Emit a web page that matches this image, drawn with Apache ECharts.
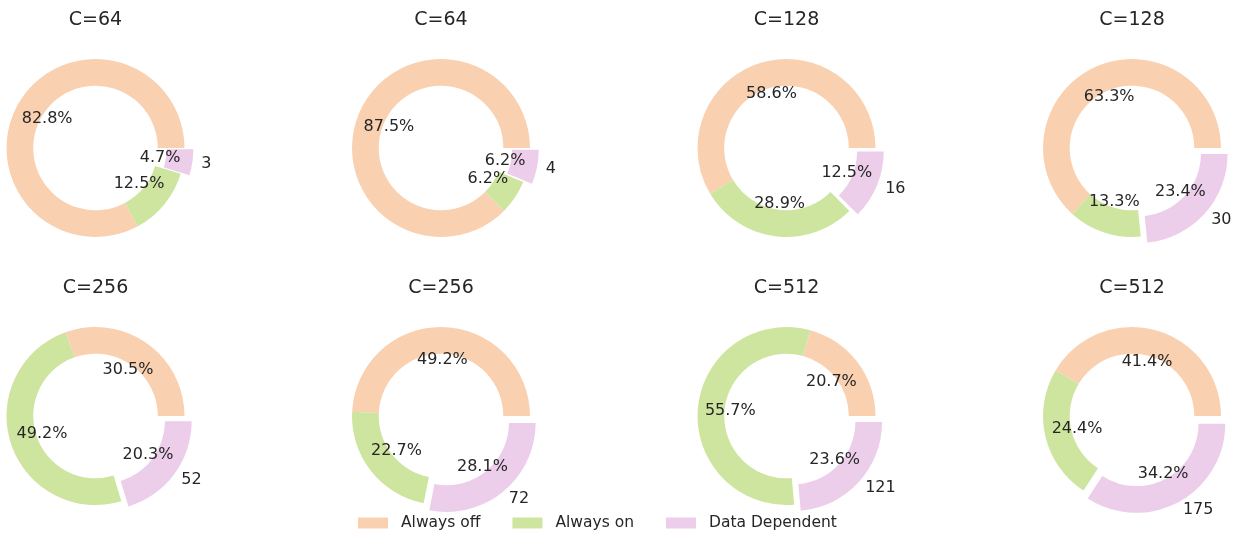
<!DOCTYPE html>
<html>
<head>
<meta charset="utf-8">
<script src="https://cdn.jsdelivr.net/npm/echarts@6/dist/echarts.min.js"></script>
<style>
html,body{margin:0;padding:0;background:#fff;}
#main{width:1241px;height:538px;}
</style>
</head>
<body>
<div id="main"></div>
<script>
// ---- data ----
const titles = ['C=64', 'C=64', 'C=128', 'C=128', 'C=256', 'C=256', 'C=512', 'C=512'];
const categories = ['Always off', 'Always on', 'Data Dependent'];
const alwaysOff = [53, 56, 75, 81, 78, 126, 106, 212];
const alwaysOn = [8, 4, 37, 17, 126, 58, 285, 125];
const dataDependent = [3, 4, 16, 30, 52, 72, 121, 175];

// ---- style / layout ----
const colors = ['#F9D0B0', '#CEE5A0', '#ECCDEA'];
const textColor = '#262626';
const font = 'DejaVu Sans';
const colX = [95.5, 441, 786.5, 1132];
const rowY = [148, 416];
const titleY = [20, 288];
const R = 89;
const R0 = 62.3;
const explode = 0.1 * R;
const pctR = 0.6 * R;

function pctText(v, total) {
  const x = v / total * 1000;
  let n = Math.floor(x + 1e-9);
  const f = x - n;
  if (Math.abs(f - 0.5) < 1e-9) { if (n % 2 === 1) n += 1; }
  else if (f > 0.5) n += 1;
  return (n / 10).toFixed(1) + '%';
}

const series = [];
const graphics = [];
for (let i = 0; i < titles.length; i++) {
  const cx = colX[i % 4];
  const cy = rowY[Math.floor(i / 4)];
  const vals = [alwaysOff[i], alwaysOn[i], dataDependent[i]];
  const total = vals[0] + vals[1] + vals[2];
  // ring with count label
  series.push({
    type: 'pie',
    center: [cx, cy],
    radius: [R0, R],
    startAngle: 0,
    clockwise: false,
    selectedMode: 'multiple',
    selectedOffset: explode,
    avoidLabelOverlap: false,
    animation: false,
    emphasis: { disabled: true },
    itemStyle: { borderWidth: 0 },
    label: {
      show: false, position: 'outside', alignTo: 'none', distanceToLabelLine: 0,
      color: textColor, fontSize: 16, fontFamily: font, formatter: '{c}'
    },
    labelLine: { show: false, length: explode, length2: 0 },
    data: vals.map((v, k) => ({
      name: categories[k], value: v,
      itemStyle: { color: colors[k] },
      selected: k === 2,
      label: { show: k === 2 }
    }))
  });
  // percentage labels at 0.6 R
  series.push({
    type: 'pie',
    center: [cx, cy],
    radius: [pctR - 20, pctR + 20],
    startAngle: 0,
    clockwise: false,
    selectedMode: 'multiple',
    selectedOffset: explode,
    avoidLabelOverlap: false,
    animation: false,
    silent: true,
    emphasis: { disabled: true },
    itemStyle: { color: 'rgba(0,0,0,0)', borderWidth: 0 },
    label: {
      show: true, position: 'inside', color: textColor, fontSize: 16, fontFamily: font,
      formatter: p => pctText(p.value, total)
    },
    labelLine: { show: false },
    data: vals.map((v, k) => ({ name: categories[k], value: v, selected: k === 2 }))
  });
  graphics.push({
    type: 'text', x: cx, y: titleY[Math.floor(i / 4)],
    style: { text: titles[i], align: 'center', verticalAlign: 'middle', fill: textColor, fontSize: 19, fontFamily: font }
  });
}

const chart = echarts.init(document.getElementById('main'), null, { renderer: 'canvas' });
chart.setOption({
  animation: false,
  backgroundColor: '#ffffff',
  legend: {
    data: categories,
    icon: 'rect',
    itemWidth: 30,
    itemHeight: 11,
    itemGap: 32,
    padding: 0,
    left: 358,
    top: 515,
    selectedMode: false,
    textStyle: { color: textColor, fontSize: 15.5, fontFamily: font, padding: [0, 0, 0, 8] }
  },
  graphic: graphics,
  series: series
});
</script>
</body>
</html>
